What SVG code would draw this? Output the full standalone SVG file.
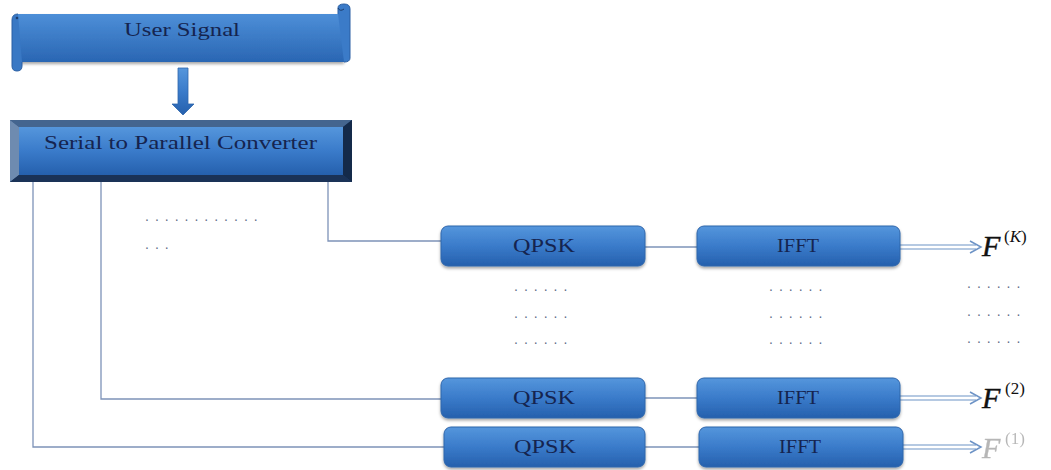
<svg xmlns="http://www.w3.org/2000/svg" width="1051" height="470" viewBox="0 0 1051 470">
<defs>
<linearGradient id="blu" x1="0" y1="0" x2="0" y2="1">
<stop offset="0" stop-color="#5596dc"/>
<stop offset="0.5" stop-color="#3a7bca"/>
<stop offset="1" stop-color="#2560ad"/>
</linearGradient>
<linearGradient id="scroll" x1="0" y1="0" x2="0" y2="1">
<stop offset="0" stop-color="#4d8fd8"/>
<stop offset="1" stop-color="#2a66b3"/>
</linearGradient>
<filter id="sh" x="-10%" y="-20%" width="120%" height="150%">
<feDropShadow dx="0" dy="2" stdDeviation="1.5" flood-color="#000" flood-opacity="0.35"/>
</filter>
</defs>
<style>
.lbl{font-family:"Liberation Serif",serif;font-size:18px;fill:#15244f;text-anchor:start}
.box{fill:url(#blu);stroke:#2f66ab;stroke-width:1;filter:url(#sh)}
.conn{fill:none;stroke:#7d93b8;stroke-width:1.3}
.dots{font-family:"Liberation Sans",sans-serif;font-size:14px;fill:#5f6d8a;letter-spacing:6px}
.fo{font-family:"Liberation Serif",serif;font-style:italic;font-size:30px;fill:#111;stroke:#111;stroke-width:0.4}
.sup{font-family:"Liberation Serif",serif;font-size:17px;fill:#111}
</style>
<rect width="1051" height="470" fill="#fff"/>

<g id="user-signal">
<path d="M18,14 L344,14 L344,62 L18,62 Z" fill="url(#scroll)" filter="url(#sh)"/>
<path d="M338,14 L338,8 Q338,4 344,4 Q350,4 350,9 L350,58 Q350,62 344,62" fill="#3b7bc8" stroke="#2a5fa3" stroke-width="1"/>
<path d="M338,8 Q340,12 344,9" fill="none" stroke="#1c3d6d" stroke-width="1"/>
<path d="M18,14 Q12,14 12,20 L12,66 Q12,71 17,71 Q22,71 22,66 L22,62" fill="#3978c4" stroke="#2a5fa3" stroke-width="1"/>
<circle cx="17" cy="18" r="1.3" fill="#1c3d6d"/>
<text class="lbl" x="124" y="36" textLength="116" lengthAdjust="spacingAndGlyphs">User Signal</text>
</g>

<g id="arrow-down">
<path d="M178,68 L188,68 L188,104 L194,104 L183,115 L172,104 L178,104 Z" fill="url(#blu)" stroke="#2f66ab" stroke-width="0.8"/>
</g>

<g id="serial-to-parallel">
<rect x="10" y="120" width="342" height="62" fill="#1f3f6c"/>
<polygon points="10,120 352,120 343,127 19,127" fill="#44658f"/>
<polygon points="10,120 19,127 19,175 10,182" fill="#6e8bb0"/>
<polygon points="352,120 352,182 343,175 343,127" fill="#142a4a"/>
<polygon points="10,182 19,175 343,175 352,182" fill="#1a3257"/>
<rect x="19" y="127" width="324" height="48" fill="url(#blu)"/>
<text class="lbl" x="44" y="149" textLength="273" lengthAdjust="spacingAndGlyphs">Serial to  Parallel Converter</text>
</g>

<g id="connectors">
<path class="conn" d="M328,182 L328,241 L441,241"/>
<path class="conn" d="M101,182 L101,399 L441,399"/>
<path class="conn" d="M33,182 L33,447 L444,447"/>
<path class="conn" d="M645,247 L697,247"/>
<path class="conn" d="M645,398 L697,398"/>
<path class="conn" d="M645,447 L699,447"/>
<g stroke="#6d93c6" stroke-width="1.2" fill="none">
<path d="M900,245 L976,245 M900,249 L976,249"/>
<path d="M900,396 L976,396 M900,400 L976,400"/>
<path d="M903,445 L976,445 M903,449 L976,449"/>
</g>
<path d="M970,241 L981,247 L970,253" fill="none" stroke="#6d93c6" stroke-width="1.5"/>
<path d="M970,392 L981,398 L970,404" fill="none" stroke="#6d93c6" stroke-width="1.5"/>
<path d="M970,441 L981,447 L970,453" fill="none" stroke="#6d93c6" stroke-width="1.5"/>
</g>

<g id="qpsk-k"><rect class="box" x="441" y="226" width="204" height="40" rx="7"/><text class="lbl" x="513" y="252" textLength="62" lengthAdjust="spacingAndGlyphs">QPSK</text></g>
<g id="ifft-k"><rect class="box" x="697" y="226" width="203" height="40" rx="7"/><text class="lbl" x="777" y="252" textLength="42" lengthAdjust="spacingAndGlyphs">IFFT</text></g>
<g id="qpsk-2"><rect class="box" x="441" y="378" width="204" height="40" rx="7"/><text class="lbl" x="513" y="404" textLength="62" lengthAdjust="spacingAndGlyphs">QPSK</text></g>
<g id="ifft-2"><rect class="box" x="697" y="378" width="203" height="40" rx="7"/><text class="lbl" x="777" y="404" textLength="42" lengthAdjust="spacingAndGlyphs">IFFT</text></g>
<g id="qpsk-1"><rect class="box" x="444" y="427" width="201" height="40" rx="7"/><text class="lbl" x="514" y="453" textLength="62" lengthAdjust="spacingAndGlyphs">QPSK</text></g>
<g id="ifft-1"><rect class="box" x="699" y="427" width="204" height="40" rx="7"/><text class="lbl" x="779" y="453" textLength="42" lengthAdjust="spacingAndGlyphs">IFFT</text></g>

<g id="out-k"><text class="fo" x="982" y="256">F</text><text class="sup" x="1004" y="242">(<tspan font-style="italic">K</tspan>)</text></g>
<g id="out-2"><text class="fo" x="982" y="408">F</text><text class="sup" x="1005" y="394">(2)</text></g>
<g id="out-1" opacity="0.3"><text class="fo" x="982" y="458">F</text><text class="sup" x="1005" y="444">(1)</text></g>

<g id="dots">
<text class="dots" x="145" y="221">............</text>
<text class="dots" x="145" y="249">...</text>
<text class="dots" x="514" y="291">......</text>
<text class="dots" x="514" y="318">......</text>
<text class="dots" x="514" y="344">......</text>
<text class="dots" x="769" y="291">......</text>
<text class="dots" x="769" y="318">......</text>
<text class="dots" x="769" y="344">......</text>
<text class="dots" x="967" y="288">......</text>
<text class="dots" x="967" y="316">......</text>
<text class="dots" x="967" y="343">......</text>
</g>
</svg>
